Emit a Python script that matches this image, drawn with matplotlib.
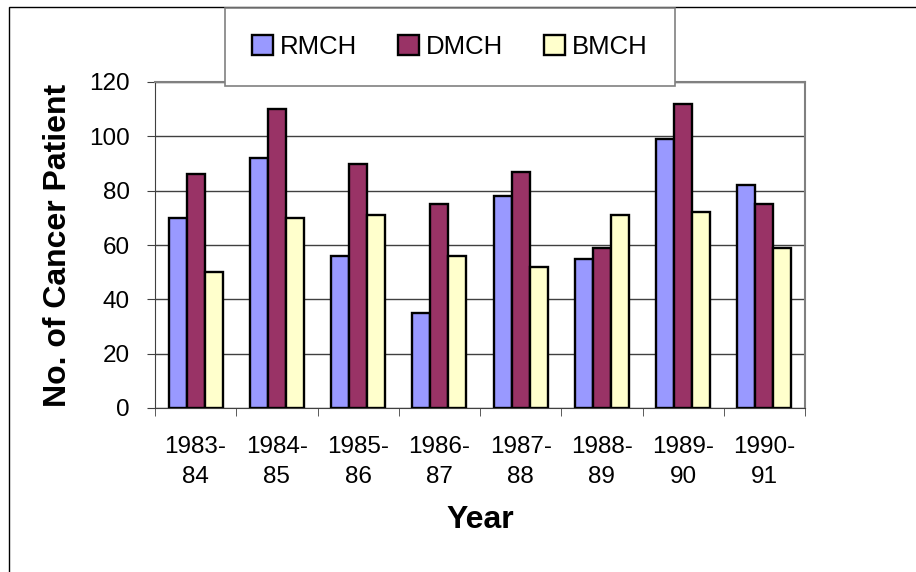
import numpy as np
import matplotlib
matplotlib.use("Agg")
import matplotlib.pyplot as plt
from matplotlib.patches import Rectangle

plt.rcParams["font.family"] = ["Liberation Sans", "DejaVu Sans"]

# 各年度的癌症患者人数
years = ["1983-\n84", "1984-\n85", "1985-\n86", "1986-\n87",
         "1987-\n88", "1988-\n89", "1989-\n90", "1990-\n91"]
rmch = [70, 92, 56, 35, 78, 55, 99, 82]
dmch = [86, 110, 90, 75, 87, 59, 112, 75]
bmch = [50, 70, 71, 56, 52, 71, 72, 59]
series_names = ["RMCH", "DMCH", "BMCH"]
colors = ["#9999FF", "#993366", "#FFFFCC"]
y_ticks = [0, 20, 40, 60, 80, 100, 120]

W, H = 916, 572
fig = plt.figure(figsize=(W / 100, H / 100), dpi=100)

# 外框（只露出左边和上边）
fig.patches.append(Rectangle((9 / W, -0.1), 1.2, (H - 7) / H + 0.1,
                             transform=fig.transFigure, fill=False,
                             edgecolor="black", linewidth=1.0))

# 绘图区
left, right, top, bottom = 155, 805, 82, 408
ax = fig.add_axes([left / W, 1 - bottom / H, (right - left) / W, (bottom - top) / H])

x = np.arange(len(years))
bw = 0.222
for i, (vals, name, c) in enumerate(zip([rmch, dmch, bmch], series_names, colors)):
    ax.bar(x + (i - 1) * bw, vals, width=bw, color=c, edgecolor="black",
           linewidth=1.7, label=name, zorder=3)

ax.set_xlim(-0.5, len(years) - 0.5)
ax.set_ylim(0, 120)
ax.set_yticks(y_ticks)
ax.grid(axis="y", color="#404040", linewidth=1.0, zorder=0)

ax.set_xticks(x)
ax.set_xticklabels(years, fontsize=17.5, linespacing=1.5)
ax.set_xticks(np.arange(len(years) + 1) - 0.5, minor=True)
ax.tick_params(axis="x", which="major", length=0, pad=20)
ax.tick_params(axis="x", which="minor", length=6, direction="out", color="#404040")
ax.tick_params(axis="y", length=6, direction="out", labelsize=17.5, pad=12, color="#404040")

for s in ["top", "right"]:
    ax.spines[s].set_color("#808080")
    ax.spines[s].set_linewidth(1.5)
ax.spines["left"].set_color("#404040")
ax.spines["bottom"].set_color("#404040")

ax.set_xlabel("Year", fontsize=23, fontweight="bold", labelpad=12)
ax.set_ylabel("No. of Cancer Patient", fontsize=23, fontweight="bold", labelpad=12)

# 图例框
leg = fig.legend(*ax.get_legend_handles_labels(), loc="center",
                 bbox_to_anchor=(225 / W, 1 - 87 / H, 450 / W, 80 / H),
                 mode="expand", ncol=3, fontsize=18.5, frameon=True,
                 framealpha=1, facecolor="white",
                 fancybox=False, edgecolor="#808080", borderaxespad=0,
                 handlelength=0.8, handleheight=0.8, handletextpad=0.3,
                 borderpad=1.05, columnspacing=3.0)
leg.get_frame().set_linewidth(1.2)
leg.set_zorder(10)

fig.savefig("out.png", dpi=100)
